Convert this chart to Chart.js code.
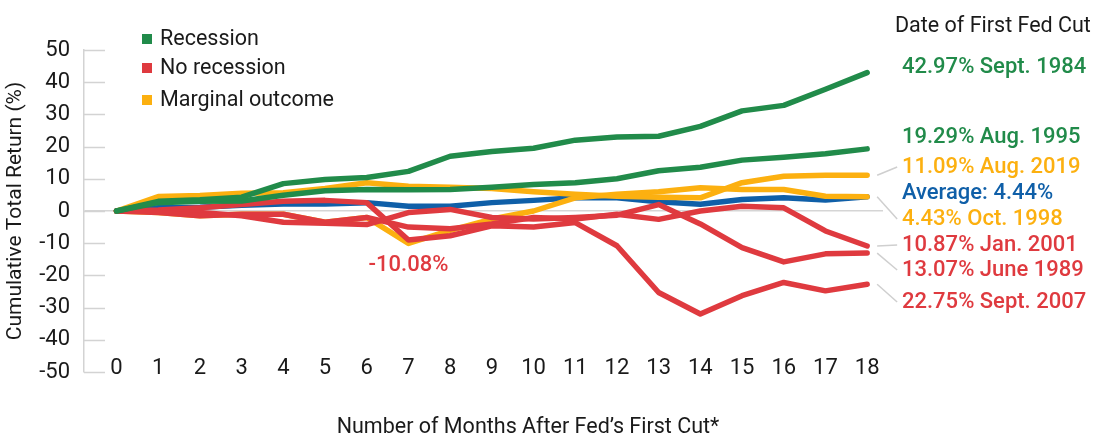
<!DOCTYPE html>
<html>
<head>
<meta charset="utf-8">
<script src="https://cdn.jsdelivr.net/npm/chart.js@4"></script>
<style>
  html, body { margin: 0; padding: 0; background: #fff; }
  #wrap { width: 1100px; height: 438px; position: relative; }
</style>
</head>
<body>
<div id="wrap"><canvas id="fedChart" width="1100" height="438"></canvas></div>
<script>
// months after the first cut
var months = [0, 1, 2, 3, 4, 5, 6, 7, 8, 9, 10, 11, 12, 13, 14, 15, 16, 17, 18];
var yTicks = [50, 40, 30, 20, 10, 0, -10, -20, -30, -40, -50];

// cumulative total return (%) by cycle
var sept1984 = [0, 3, 3.5, 4.3, 8.5, 9.8, 10.4, 12.3, 17, 18.5, 19.5, 22, 23, 23.2, 26.3, 31.1, 32.8, 37.8, 42.97];
var aug1995  = [0, 2.6, 3, 3.1, 4.9, 6.3, 6.7, 6.6, 6.7, 7.4, 8.2, 8.8, 10, 12.5, 13.6, 15.8, 16.7, 17.8, 19.29];
var aug2019  = [0, 4.5, 4.8, 5.5, 5.7, 7, 8.8, 7.7, 7.4, 7, 6, 5.2, 4.6, 4.3, 4.1, 8.8, 10.8, 11.1, 11.09];
var oct1998  = [0, -0.5, -1.5, -1, -1, -3.5, -2, -10.08, -6, -2.5, 0, 4.1, 5.2, 6, 7.2, 6.7, 6.7, 4.6, 4.43];
var jan2001  = [0, -0.5, -1.5, -1, -1, -3.5, -2, -5, -5.5, -4, -2, -2.5, -1, -2.6, 0, 1.5, 1, -6.2, -10.87];
var june1989 = [0, 0, -0.5, -1.5, -3.5, -3.8, -4.2, -0.5, 0.5, -2, -2.5, -2, -1.3, 2, -4, -11.4, -15.8, -13.3, -13.07];
var sept2007 = [0, 0.3, 1, 2, 3, 3.3, 2.6, -9, -7.7, -4.6, -5, -3.6, -10.8, -25.3, -32, -26.3, -22.2, -24.8, -22.75];
var average  = [0, 1, 1.2, 1.8, 2.2, 2.2, 2.6, 1.5, 1.5, 2.6, 3.3, 4.1, 4.1, 2.9, 2.1, 3.6, 4.1, 3.4, 4.44];

var GREEN = '#218b4a', RED = '#df3a3f', YELLOW = '#fcb010', BLUE = '#0f5fa8';

var legendItems = ['Recession', 'No recession', 'Marginal outcome'];
var legendColors = [GREEN, RED, YELLOW];

// end labels (text, colour, series for the leader line or null)
var endLabels = [
    ['42.97% Sept. 1984', GREEN, null],
    ['19.29% Aug. 1995', GREEN, null],
    ['11.09% Aug. 2019', YELLOW, aug2019],
    ['Average: 4.44%', BLUE, null],
    ['4.43% Oct. 1998', YELLOW, oct1998],
    ['10.87% Jan. 2001', RED, jan2001],
    ['13.07% June 1989', RED, june1989],
    ['22.75% Sept. 2007', RED, sept2007]
];
var endLabelY = [67, 137, 167, 193, 219, 245, 270, 302];

function series(data, color) {
    return {
        data: months.map(function (m, i) { return { x: m, y: data[i] }; }),
        borderColor: color,
        borderWidth: 5.5,
        borderCapStyle: 'round',
        borderJoinStyle: 'round',
        pointRadius: 0,
        tension: 0,
        fill: false
    };
}

var FONT = 'Roboto, "Noto Sans", sans-serif';

var annotate = {
    id: 'annotate',
    beforeDatasetsDraw: function (chart) {
        var ctx = chart.ctx, y = chart.scales.y, area = chart.chartArea;
        ctx.save();
        ctx.strokeStyle = '#d3d3d3';
        ctx.lineWidth = 1.5;
        y.ticks.forEach(function (t) {
            var py = Math.round(y.getPixelForValue(t.value)) + 0.5;
            ctx.beginPath();
            ctx.moveTo(area.left, py);
            ctx.lineTo(area.left + 21, py);
            ctx.stroke();
        });
        ctx.restore();
    },
    afterDraw: function (chart) {
        var ctx = chart.ctx, x = chart.scales.x, y = chart.scales.y;
        ctx.save();

        // legend
        ctx.textBaseline = 'middle';
        ctx.textAlign = 'left';
        ctx.font = '21.5px ' + FONT;
        var legY = [39, 68, 100];
        legendItems.forEach(function (name, i) {
            ctx.fillStyle = legendColors[i];
            ctx.fillRect(142, legY[i] - 5, 10, 10);
            ctx.fillStyle = '#1a1a1a';
            ctx.fillText(name, 160, legY[i] + 1);
        });

        // header
        ctx.font = '21.5px ' + FONT;
        ctx.fillStyle = '#1a1a1a';
        ctx.fillText('Date of First Fed Cut', 895, 27);

        // end labels and leader lines
        var xEnd = x.getPixelForValue(months[months.length - 1]);
        endLabels.forEach(function (l, i) {
            var ly = endLabelY[i];
            if (l[2]) {
                var py = y.getPixelForValue(l[2][l[2].length - 1]);
                ctx.strokeStyle = '#cfcfcf';
                ctx.lineWidth = 1.5;
                ctx.beginPath();
                ctx.moveTo(xEnd + 10, py);
                ctx.lineTo(xEnd + 30, ly);
                ctx.stroke();
            }
            ctx.font = '500 22px ' + FONT;
            ctx.fillStyle = l[1];
            ctx.fillText(l[0], 902, ly);
        });

        // trough label
        ctx.textAlign = 'center';
        ctx.font = '500 22px ' + FONT;
        ctx.fillStyle = RED;
        ctx.fillText('-10.08%', x.getPixelForValue(7), y.getPixelForValue(-10.08) + 22);

        // x title
        ctx.font = '21.5px ' + FONT;
        ctx.fillStyle = '#1a1a1a';
        ctx.fillText('Number of Months After Fed\u2019s First Cut*', 528, 428);
        ctx.restore();
    }
};

// dataset 0 is painted last (on top)
var ctx = document.getElementById('fedChart').getContext('2d');
new Chart(ctx, {
    type: 'line',
    data: {
        datasets: [
            series(sept1984, GREEN),
            series(aug1995, GREEN),
            series(jan2001, RED),
            series(june1989, RED),
            series(sept2007, RED),
            series(aug2019, YELLOW),
            series(oct1998, YELLOW),
            series(average, BLUE)
        ]
    },
    options: {
        responsive: false,
        animation: false,
        devicePixelRatio: 1,
        layout: { padding: { top: 50, right: 217, bottom: 0, left: 0 } },
        plugins: {
            legend: { display: false },
            tooltip: { enabled: false }
        },
        scales: {
            x: {
                type: 'linear',
                min: -0.78,
                max: 18.38,
                afterBuildTicks: function (scale) {
                    scale.ticks = months.map(function (m) { return { value: m }; });
                },
                afterFit: function (scale) { scale.height = 66; },
                grid: { display: false, drawTicks: false },
                border: { display: false },
                ticks: {
                    mirror: true,
                    padding: -10,
                    autoSkip: false,
                    maxRotation: 0,
                    color: '#1a1a1a',
                    font: { family: FONT, size: 22 }
                }
            },
            y: {
                min: -50,
                max: 50,
                afterBuildTicks: function (scale) {
                    scale.ticks = yTicks.map(function (v) { return { value: v }; });
                },
                afterFit: function (scale) { scale.width = 84; },
                grid: {
                    drawTicks: false,
                    color: function (c) { return c.tick && c.tick.value === 0 ? '#d5d5d5' : 'rgba(0,0,0,0)'; },
                    lineWidth: 1.5
                },
                border: { display: true, color: '#d3d3d3', width: 1.5 },
                ticks: {
                    padding: 14,
                    color: '#1a1a1a',
                    font: { family: FONT, size: 22 }
                },
                title: {
                    display: true,
                    text: 'Cumulative Total Return (%)',
                    color: '#1a1a1a',
                    font: { family: FONT, size: 21 },
                    padding: { top: 3, bottom: 3 }
                }
            }
        }
    },
    plugins: [annotate]
});
</script>
</body>
</html>
